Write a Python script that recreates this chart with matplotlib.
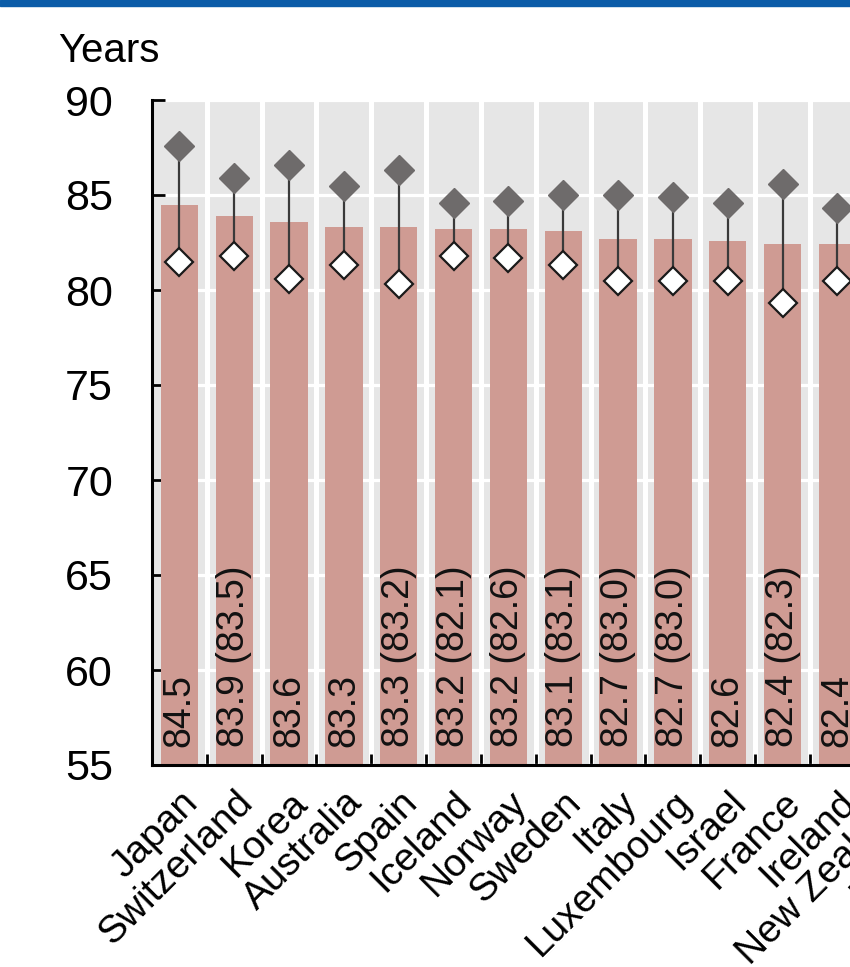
import matplotlib
matplotlib.use("Agg")
import matplotlib.pyplot as plt
from matplotlib import font_manager
from matplotlib.patches import Rectangle
import numpy as np

# ---------------------------------------------------------
# DATA
# ---------------------------------------------------------

countries = ["Japan", "Switzerland", "Korea", "Australia", "Spain", "Iceland",
             "Norway", "Sweden", "Italy", "Luxembourg", "Israel", "France",
             "Ireland", "New Zealand", "Portugal"]

total = [84.5, 83.9, 83.6, 83.3, 83.3, 83.2, 83.2, 83.1, 82.7, 82.7, 82.6, 82.4, 82.4]
previous = [None, 83.5, None, None, 83.2, 82.1, 82.6, 83.1, 83.0, 83.0, None, 82.3, None]
women = [87.6, 85.9, 86.6, 85.5, 86.3, 84.6, 84.7, 85.0, 85.0, 84.9, 84.6, 85.6, 84.3]
men = [81.5, 81.8, 80.6, 81.3, 80.3, 81.8, 81.7, 81.3, 80.5, 80.5, 80.5, 79.3, 80.5]

yticks = [55, 60, 65, 70, 75, 80, 85, 90]

# ---------------------------------------------------------
# FONT
# ---------------------------------------------------------

names = {f.name for f in font_manager.fontManager.ttflist}
if "Liberation Sans Narrow" in names:
    plt.rcParams["font.family"] = ["Liberation Sans Narrow", "DejaVu Sans"]
else:
    plt.rcParams["font.family"] = ["Liberation Sans", "DejaVu Sans"]

# ---------------------------------------------------------
# FIGURE
# ---------------------------------------------------------

W, H = 850, 967
fig = plt.figure(figsize=(W / 100, H / 100), dpi=100)

# blue band on top of the page
fig.patches.append(Rectangle((0, 1 - 6 / H), 1, 6 / H, transform=fig.transFigure,
                             color="#0b5ca8", zorder=5))

step = 54.83
n = len(countries)
ax = fig.add_axes([152 / W, 202 / H, n * step / W, 665 / H])

bar_col = "#cf9b93"
x = np.arange(len(total))

ax.set_facecolor("#e6e6e6")
ax.set_axisbelow(True)

ax.bar(x, total, width=0.68, color=bar_col, zorder=2)

for i in x:
    ax.plot([i, i], [men[i], women[i]], color="#3a3a3a", lw=1.6, zorder=3)

ax.plot(x, women, ls="none", marker="D", ms=15, color="#6e6b6b",
        markeredgecolor="#6e6b6b", zorder=4)
ax.plot(x, men, ls="none", marker="D", ms=14, markerfacecolor="white",
        markeredgecolor="#1a1a1a", markeredgewidth=1.6, zorder=4)

for i in x:
    if previous[i] is None:
        lab = f"{total[i]:.1f}"
    else:
        lab = f"{total[i]:.1f} ({previous[i]:.1f})"
    ax.annotate(lab, (i, 55), xytext=(0, 13), textcoords="offset points",
                rotation=90, ha="center", va="bottom", fontsize=27,
                color="#111111", zorder=5)

ax.set_xlim(-0.5, n - 0.5)
ax.set_ylim(55, 90)
ax.set_yticks(yticks)
ax.set_xticks(np.arange(n))
ax.set_xticklabels(countries, rotation=45, ha="right", rotation_mode="anchor",
                   fontsize=28)
ax.set_xticks(np.arange(n) + 0.5, minor=True)

ax.tick_params(axis="y", direction="in", length=9, width=2, labelsize=31, pad=28)
ax.tick_params(axis="x", which="major", length=0, pad=14)
ax.tick_params(axis="x", which="minor", direction="in", length=8, width=2)

ax.grid(True, which="major", axis="y", color="white", lw=2.3)
ax.grid(True, which="minor", axis="x", color="white", lw=3.6)

for s in ["top", "right"]:
    ax.spines[s].set_visible(False)
for s in ["left", "bottom"]:
    ax.spines[s].set_linewidth(2.2)
    ax.spines[s].set_zorder(6)

fig.text(58 / W, 1 - 62 / H, "Years", fontsize=29, ha="left", va="baseline")

fig.savefig("out.png", dpi=100)
